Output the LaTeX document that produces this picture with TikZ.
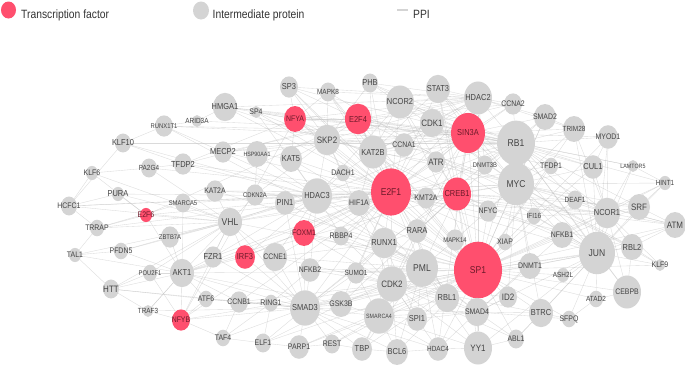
\documentclass[tikz,border=0pt]{standalone}
\usepackage{fontspec}
\setmainfont{Liberation Sans}[FakeStretch=0.86]
\usetikzlibrary{shapes.geometric}
\definecolor{tfred}{HTML}{FF4F6E}
\definecolor{ipgray}{HTML}{D4D4D4}
\definecolor{edgec}{HTML}{BDBDBD}
\definecolor{lblgray}{HTML}{444444}
\definecolor{lblred}{HTML}{6E1A2A}
\pgfdeclarelayer{bgzero}
\pgfdeclarelayer{edges}
\pgfsetlayers{bgzero,edges,main}
\tikzset{
  tf/.style={ellipse, fill=tfred, draw=none, inner sep=0pt, outer sep=0pt},
  ip/.style={ellipse, fill=ipgray, draw=none, inner sep=0pt, outer sep=0pt},
  tflbl/.style={text=lblred, inner sep=0pt},
  iplbl/.style={text=lblgray, inner sep=0pt},
  link/.style={draw=edgec, line width=0.35pt, opacity=0.55},
  legtext/.style={anchor=base west, inner sep=0pt, text=black!80, font=\fontsize{12}{12}\selectfont}
}
\newcommand\mynode[6]{%
  \pgfmathsetmacro\myfs{#5*1.24}%
  \node[#6, minimum width={2*#3pt}, minimum height={2.36*#3pt},
        label={[#6lbl, font=\fontsize{\myfs pt}{\myfs pt}\selectfont]center:#4}] (#4) at (#1,#2) {};}
\begin{document}
\begin{tikzpicture}[x=1pt,y=-1pt]
\useasboundingbox (0,0) rectangle (685,367);
\begin{pgfonlayer}{bgzero}
\fill[white] (0,0) rectangle (685,367);
\end{pgfonlayer}
% legend
\node[tf, minimum width=15pt, minimum height=17pt] (legTF) at (8.5,10) {};
\node[legtext] (legTFt) at (21,18.3) {Transcription factor};
\node[ip, minimum width=16pt, minimum height=18pt] (legIP) at (201,10.5) {};
\node[legtext] (legIPt) at (212.5,18.3) {Intermediate protein};
\coordinate (ppiA) at (397,10);
\coordinate (ppiB) at (408,10);
\draw[ipgray, line width=1.3pt] (ppiA) -- (ppiB);
\node[legtext] (legPPI) at (413,18.3) {PPI};
% transcription factors
\mynode{295}{119}{11}{NFYA}{6.5}{tf}
\mynode{358}{119}{13}{E2F4}{7}{tf}
\mynode{468}{133}{17}{SIN3A}{7}{tf}
\mynode{391}{192}{20}{E2F1}{8}{tf}
\mynode{457}{194}{14}{CREB1}{7}{tf}
\mynode{146}{215}{6}{E2F6}{6.5}{tf}
\mynode{304}{233}{11}{FOXM1}{6.5}{tf}
\mynode{245}{257}{10}{IRF3}{7}{tf}
\mynode{478}{270}{24}{SP1}{8}{tf}
\mynode{181}{320}{9}{NFYB}{6.5}{tf}
% intermediate proteins
\mynode{289}{87}{9}{SP3}{7}{ip}
\mynode{328}{92}{8}{MAPK8}{6}{ip}
\mynode{370}{83}{8}{PHB}{7}{ip}
\mynode{400}{102}{14}{NCOR2}{7}{ip}
\mynode{438}{89}{12}{STAT3}{7}{ip}
\mynode{478}{98}{14}{HDAC2}{7}{ip}
\mynode{513}{104}{9}{CCNA2}{6.5}{ip}
\mynode{545}{117}{11}{SMAD2}{6.5}{ip}
\mynode{574}{129}{11}{TRIM28}{6}{ip}
\mynode{608}{137}{10}{MYOD1}{6.5}{ip}
\mynode{225}{107}{12}{HMGA1}{7}{ip}
\mynode{256}{112}{5}{SP4}{6.5}{ip}
\mynode{197}{121}{5}{ARID3A}{6}{ip}
\mynode{164}{126}{9}{RUNX1T1}{5.5}{ip}
\mynode{123}{143}{8}{KLF10}{7}{ip}
\mynode{223}{152}{9}{MECP2}{7}{ip}
\mynode{257}{154}{11}{HSP90AA1}{5}{ip}
\mynode{291}{159}{11}{KAT5}{7}{ip}
\mynode{327}{140}{13}{SKP2}{7.5}{ip}
\mynode{373}{152}{14}{KAT2B}{7}{ip}
\mynode{404}{145}{10}{CCNA1}{6.5}{ip}
\mynode{432}{123}{12}{CDK1}{7.5}{ip}
\mynode{436}{162}{9}{ATR}{7.5}{ip}
\mynode{516}{143}{19}{RB1}{8}{ip}
\mynode{485}{165}{8}{DNMT3B}{5.5}{ip}
\mynode{551}{166}{7}{TFDP1}{6.5}{ip}
\mynode{593}{167}{10}{CUL1}{7}{ip}
\mynode{633}{166}{5}{LAMTOR5}{5}{ip}
\mynode{183}{164}{9}{TFDP2}{7}{ip}
\mynode{149}{168}{8}{PA2G4}{6}{ip}
\mynode{92}{173}{6}{KLF6}{6.5}{ip}
\mynode{343}{173}{7}{DACH1}{6.5}{ip}
\mynode{516}{184}{18}{MYC}{8}{ip}
\mynode{665}{183}{6}{HINT1}{6}{ip}
\mynode{215}{191}{9}{KAT2A}{6.5}{ip}
\mynode{118}{194}{6}{PURA}{7}{ip}
\mynode{255}{195}{9}{CDKN2A}{5.5}{ip}
\mynode{317}{196}{15}{HDAC3}{7}{ip}
\mynode{285}{203}{10}{PIN1}{7}{ip}
\mynode{359}{203}{11}{HIF1A}{6.5}{ip}
\mynode{426}{198}{9}{KMT2A}{6.5}{ip}
\mynode{575}{200}{8}{DEAF1}{6}{ip}
\mynode{183}{203}{8}{SMARCA5}{5.5}{ip}
\mynode{69}{206}{8}{HCFC1}{6.5}{ip}
\mynode{639}{207}{11}{SRF}{7.5}{ip}
\mynode{488}{211}{9}{NFYC}{6.5}{ip}
\mynode{607}{213}{13}{NCOR1}{7}{ip}
\mynode{534}{216}{7}{IFI16}{6}{ip}
\mynode{230}{222}{12}{VHL}{8}{ip}
\mynode{675}{225}{11}{ATM}{7.5}{ip}
\mynode{97}{228}{7}{TRRAP}{6.5}{ip}
\mynode{417}{231}{10}{RARA}{7}{ip}
\mynode{562}{235}{11}{NFKB1}{6.5}{ip}
\mynode{341}{236}{8}{RBBP4}{6.5}{ip}
\mynode{170}{237}{9}{ZBTB7A}{5.5}{ip}
\mynode{455}{240}{9}{MAPK14}{5.5}{ip}
\mynode{505}{242}{7}{XIAP}{6.5}{ip}
\mynode{384}{243}{13}{RUNX1}{7}{ip}
\mynode{632}{247}{11}{RBL2}{7}{ip}
\mynode{121}{251}{7}{PFDN5}{6.5}{ip}
\mynode{597}{253}{18}{JUN}{8}{ip}
\mynode{75}{255}{6}{TAL1}{6.5}{ip}
\mynode{213}{257}{9}{FZR1}{7}{ip}
\mynode{275}{257}{12}{CCNE1}{6.5}{ip}
\mynode{660}{265}{5}{KLF9}{6.5}{ip}
\mynode{530}{266}{11}{DNMT1}{6.5}{ip}
\mynode{422}{268}{16}{PML}{8}{ip}
\mynode{310}{270}{10}{NFKB2}{6.5}{ip}
\mynode{356}{273}{9}{SUMO1}{6}{ip}
\mynode{150}{273}{7}{POU2F1}{5.5}{ip}
\mynode{182}{273}{12}{AKT1}{7}{ip}
\mynode{563}{275}{6}{ASH2L}{6}{ip}
\mynode{392}{284}{15}{CDK2}{7.5}{ip}
\mynode{111}{289}{8}{HTT}{7.5}{ip}
\mynode{627}{292}{14}{CEBPB}{6.5}{ip}
\mynode{447}{298}{12}{RBL1}{7}{ip}
\mynode{508}{297}{9}{ID2}{7.5}{ip}
\mynode{206}{299}{7}{ATF6}{6.5}{ip}
\mynode{596}{299}{7}{ATAD2}{6}{ip}
\mynode{239}{302}{9}{CCNB1}{6.5}{ip}
\mynode{271}{303}{7}{RING1}{6.5}{ip}
\mynode{341}{304}{11}{GSK3B}{6.5}{ip}
\mynode{305}{308}{15}{SMAD3}{7}{ip}
\mynode{148}{311}{5}{TRAF3}{6}{ip}
\mynode{477}{312}{12}{SMAD4}{6.5}{ip}
\mynode{541}{313}{12}{BTRC}{7}{ip}
\mynode{379}{316}{15}{SMARCA4}{5}{ip}
\mynode{417}{319}{10}{SPI1}{7}{ip}
\mynode{569}{319}{7}{SFPQ}{6.5}{ip}
\mynode{223}{338}{7}{TAF4}{6.5}{ip}
\mynode{516}{339}{8}{ABL1}{6.5}{ip}
\mynode{263}{343}{8}{ELF1}{6.5}{ip}
\mynode{332}{344}{8}{REST}{6.5}{ip}
\mynode{299}{347}{10}{PARP1}{6.5}{ip}
\mynode{362}{349}{10}{TBP}{7}{ip}
\mynode{438}{349}{10}{HDAC4}{6}{ip}
\mynode{478}{348}{14}{YY1}{7.5}{ip}
\mynode{397}{352}{11}{BCL6}{7}{ip}
% protein-protein interactions
\begin{pgfonlayer}{edges}
\foreach \t in {E2F1,CREB1,SIN3A,RB1,MYC,JUN,PML,CDK2,HDAC2,HDAC3,NCOR2,STAT3,SMAD3,SMAD4,SMAD2,YY1,BTRC,ID2,DNMT1,RBL1,RBL2,NFYA,NFYB,NFYC,E2F4,SP3,HDAC4,TBP,BCL6,SPI1,SMARCA4,RUNX1,RARA,NFKB1,NCOR1,SRF,CEBPB,ATAD2,ASH2L,SFPQ,ABL1,XIAP,MAPK14,KLF9,AKT1,VHL,HIF1A,FOXM1,MAPK8,PARP1,SUMO1,GSK3B,ATM,CUL1,TFDP1,DEAF1,HINT1,TRIM28,MYOD1,KAT2B,KAT5,KAT2A,ELF1,REST}{\draw[link] (SP1) -- (\t);}
\foreach \t in {E2F4,E2F6,RB1,RBL1,RBL2,TFDP1,TFDP2,CDK2,CDK1,CCNA1,CCNA2,CCNE1,SKP2,MYC,SIN3A,KAT2B,KAT2A,KAT5,HDAC3,HDAC2,NCOR2,ATR,ATM,PIN1,HIF1A,RUNX1,RARA,KMT2A,DACH1,CDKN2A,HMGA1,MECP2,FZR1,CCNB1,AKT1,VHL,PHB,STAT3,HCFC1,TRRAP,PA2G4,SMAD3,GSK3B,SUMO1,NFKB2,FOXM1,IRF3,RBBP4,PML,SP3,SP4,NFYA,MAPK8,XIAP,IFI16,NCOR1,JUN}{\draw[link] (E2F1) -- (\t);}
\foreach \t in {HDAC2,HDAC3,NCOR2,NCOR1,RB1,MYC,E2F4,SKP2,CDK1,STAT3,PHB,KAT2B,CCNA2,SMAD2,TRIM28,MYOD1,DNMT3B,MECP2,SP3,NFYA,CREB1,HDAC4,SMARCA4,FOXM1,ATR,KMT2A,RUNX1T1,ARID3A,HMGA1,LAMTOR5,CUL1}{\draw[link] (SIN3A) -- (\t);}
\foreach \t in {E2F4,CDK1,CCNA2,SMAD2,TRIM28,MYOD1,HDAC2,NCOR2,CUL1,TFDP1,MYC,DNMT3B,SKP2,KAT2B,PHB,ATR,SRF,NCOR1,JUN,CEBPB,HINT1,LAMTOR5,DEAF1,IFI16,RUNX1T1,KLF10,HMGA1,SP4,RBBP4,RARA}{\draw[link] (RB1) -- (\t);}
\foreach \t in {CREB1,SMAD2,TRIM28,CUL1,TFDP1,SRF,NCOR1,NFKB1,JUN,DNMT1,XIAP,NFYC,KMT2A,SKP2,CCNA1,CDK1,STAT3,PHB,HDAC3,MAPK14,ATM,HINT1,KLF9,RBL2,BTRC,ID2}{\draw[link] (MYC) -- (\t);}
\foreach \t in {NCOR1,JUN,STAT3,CDK1,ATR,KMT2A,RARA,RUNX1,MAPK14,NFKB1,SRF,NCOR2,HDAC2,KAT2B,SMAD4,PML,YY1,DEAF1,AKT1,GSK3B,HIF1A}{\draw[link] (CREB1) -- (\t);}
\foreach \t in {SRF,NCOR1,RBL2,ATM,KLF9,CEBPB,ATAD2,ASH2L,NFKB1,DNMT1,BTRC,SFPQ,SMAD4,SMAD3,HINT1,CUL1,DEAF1,MYOD1,TRIM28,IFI16,LAMTOR5,ABL1,YY1,MAPK8,STAT3}{\draw[link] (JUN) -- (\t);}
\foreach \t in {SUMO1,RUNX1,CDK2,RBL1,SMAD4,SMARCA4,SPI1,GSK3B,HDAC4,YY1,TBP,BCL6,SMAD3,NFKB2,RARA,MAPK14,HIF1A,RBBP4,FOXM1,CCNE1,PIN1,HDAC3}{\draw[link] (PML) -- (\t);}
\foreach \t in {SMAD4,SMAD2,CDK2,GSK3B,SMARCA4,TBP,REST,PARP1,ELF1,RING1,CCNB1,TAF4,ATF6,NFYB,AKT1,FZR1,IRF3,CCNE1,NFKB2,SUMO1,BCL6,HDAC4,FOXM1,RUNX1,PIN1,VHL,TRAF3,HTT}{\draw[link] (SMAD3) -- (\t);}
\foreach \t in {CCNE1,CCNB1,SKP2,RBL1,SMARCA4,SPI1,GSK3B,TBP,BCL6,HDAC4,YY1,SMAD4,RUNX1,RARA,FOXM1,NFKB2,SUMO1,RBBP4,ABL1,ID2,BTRC}{\draw[link] (CDK2) -- (\t);}
\foreach \t in {NCOR2,NCOR1,KAT5,SKP2,PIN1,CDKN2A,HSP90AA1,MECP2,KAT2A,VHL,FOXM1,RBBP4,HIF1A,DACH1,IRF3,CCNE1,NFKB2,SMARCA5,ZBTB7A,FZR1,SP4,TFDP2,KLF10,HCFC1,PURA}{\draw[link] (HDAC3) -- (\t);}
\foreach \t in {NCOR2,STAT3,CDK1,CCNA2,SMAD2,KAT2B,PHB,NFYA,E2F4,MECP2,HMGA1,SP3,MAPK8,SKP2,TRIM28,DNMT3B,CCNA1}{\draw[link] (HDAC2) -- (\t);}
\foreach \t in {HIF1A,E2F6,SMARCA5,ZBTB7A,KAT2A,CDKN2A,PIN1,FZR1,AKT1,POU2F1,PFDN5,TRRAP,PURA,HCFC1,TAL1,KLF6,PA2G4,IRF3,CCNE1,NFYB,HTT}{\draw[link] (VHL) -- (\t);}
\foreach \t in {HTT,POU2F1,TRAF3,NFYB,ATF6,CCNB1,FZR1,ZBTB7A,PFDN5,TAL1,E2F6,IRF3,GSK3B,FOXM1,SMARCA5}{\draw[link] (AKT1) -- (\t);}
\foreach \t in {NFYA,E2F4,SP3,MAPK8,KAT5,HSP90AA1,KAT2B,CCNA1,PHB,SP4,HMGA1,CDKN2A,DACH1,MECP2}{\draw[link] (SKP2) -- (\t);}
\foreach \t in {NCOR2,PHB,CCNA1,ATR,KMT2A,DACH1,HIF1A,E2F4,STAT3,CDK1,MAPK8}{\draw[link] (KAT2B) -- (\t);}
\foreach \t in {SPI1,BCL6,HDAC4,TBP,REST,GSK3B,SMAD4,RBL1,YY1,PARP1,SUMO1,RUNX1}{\draw[link] (SMARCA4) -- (\t);}
\foreach \t in {NFYA,TFDP1,TFDP2,RBL2,RBL1,CCNA2,E2F6,SP3}{\draw[link] (E2F4) -- (\t);}
\foreach \t in {NFYB,NFYC,SP3,MAPK8,HMGA1,SP4,KAT5,TFDP2}{\draw[link] (NFYA) -- (\t);}
\foreach \t in {RARA,RBBP4,HIF1A,SUMO1,RUNX1T1,SMAD4,SPI1,CCNE1}{\draw[link] (RUNX1) -- (\t);}
\foreach \t in {YY1,SPI1,RBL1,BTRC,ABL1,ID2,SFPQ,DNMT1,HDAC4,NFKB1}{\draw[link] (SMAD4) -- (\t);}
\foreach \t in {SRF,ATM,RBL2,NFKB1,DEAF1,IFI16,HINT1,CUL1,MYOD1,TRIM28,CEBPB,KLF9,LAMTOR5}{\draw[link] (NCOR1) -- (\t);}
\foreach \a/\b in {KLF10/RUNX1T1,KLF6/PA2G4,HCFC1/TRRAP,HCFC1/PURA,TRRAP/E2F6,PURA/E2F6,TAL1/PFDN5,HTT/POU2F1,HTT/TRAF3,TRAF3/NFYB,NFYB/TAF4,NFYB/ATF6,TAF4/ELF1,TAF4/CCNB1,ELF1/PARP1,PARP1/REST,REST/TBP,TBP/BCL6,BCL6/HDAC4,HDAC4/YY1,YY1/ABL1,ABL1/BTRC,BTRC/SFPQ,SFPQ/ATAD2,ATAD2/CEBPB,CEBPB/RBL2,RBL2/ATM,ATM/SRF,SRF/HINT1,KLF9/RBL2,HTT/TAL1,HCFC1/KLF10,KLF6/HCFC1,TAL1/TRRAP,ARID3A/HMGA1,RUNX1T1/ARID3A,RUNX1T1/MECP2,TFDP2/PA2G4,HSP90AA1/KAT5,HSP90AA1/CDKN2A,DACH1/KMT2A,ATR/ATM,KLF10/TFDP2,KLF6/E2F6,PFDN5/ZBTB7A,TRRAP/SMARCA5,POU2F1/NFYB,ATF6/CCNB1,RING1/ELF1,CCNB1/RING1,HINT1/LAMTOR5,MYOD1/CUL1,SMAD2/TRIM28,CCNA2/CDK1,NFKB2/RING1,ELF1/GSK3B,TAF4/RING1,HTT/ATF6,TRAF3/AKT1,NFYB/CCNE1}{\draw[link] (\a) -- (\b);}
\end{pgfonlayer}
\end{tikzpicture}
\end{document}
